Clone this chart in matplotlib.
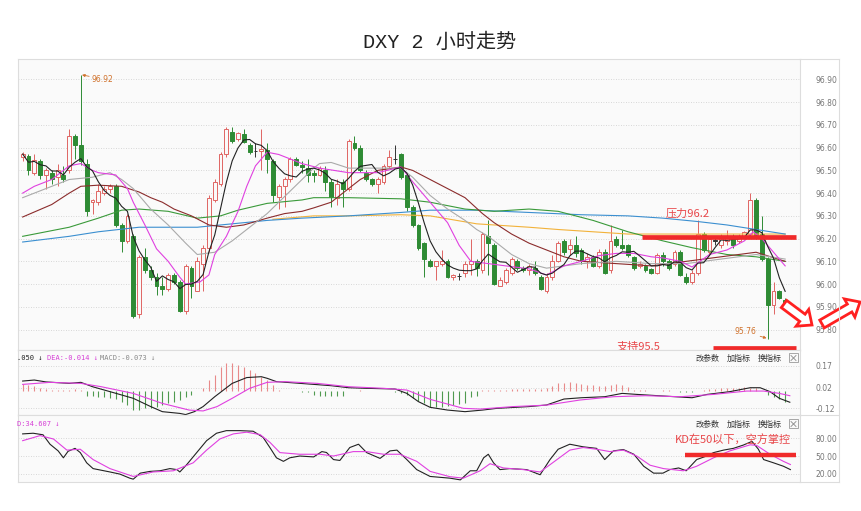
import numpy as np
import pandas as pd
import matplotlib
matplotlib.use("Agg")
import matplotlib.pyplot as plt
from matplotlib.patches import FancyArrow, Rectangle

plt.rcParams['font.family'] = ['DejaVu Sans', 'Noto Sans CJK SC']

# 2h bars (left -> right)
opens = [96.557, 96.562, 96.49, 96.54, 96.48, 96.49, 96.47, 96.48, 96.50, 96.65,
         96.61, 96.53, 96.36, 96.36, 96.40, 96.42, 96.43, 96.26, 96.19, 96.21,
         95.87, 96.12, 96.06, 96.03, 95.99, 95.98, 96.04, 96.01, 95.88, 96.07,
         95.97, 96.09, 96.16, 96.37, 96.44, 96.57, 96.67, 96.64, 96.66, 96.61,
         96.585, 96.585, 96.59, 96.54, 96.385, 96.43, 96.46, 96.55, 96.525, 96.51,
         96.49, 96.48, 96.50, 96.45, 96.38, 96.45, 96.42, 96.62, 96.60, 96.49,
         96.46, 96.44, 96.45, 96.52, 96.55, 96.57, 96.48, 96.34, 96.26, 96.18,
         96.10, 96.08, 96.09, 96.10, 96.03, 96.035, 96.05, 96.09, 96.10, 96.06,
         96.21, 96.17, 95.99, 96.01, 96.05, 96.10, 96.07, 96.06, 96.07, 96.03,
         95.97, 96.03, 96.10, 96.19, 96.155, 96.17, 96.15, 96.10, 96.12, 96.08,
         96.14, 96.06, 96.20, 96.17, 96.17, 96.12, 96.08, 96.08, 96.065, 96.05,
         96.13, 96.10, 96.09, 96.14, 96.03, 96.01, 96.05, 96.22, 96.14, 96.19,
         96.17, 96.19, 96.21, 96.19, 96.21, 96.22, 96.37, 96.22, 96.11, 95.91,
         95.97, 95.93]
highs = [96.58, 96.572, 96.57, 96.55, 96.51, 96.50, 96.53, 96.52, 96.68, 96.66,
         96.92, 96.55, 96.375, 96.44, 96.43, 96.44, 96.44, 96.27, 96.31, 96.22,
         96.13, 96.16, 96.08, 96.05, 96.03, 96.05, 96.05, 96.02, 96.09, 96.08,
         96.12, 96.17, 96.39, 96.46, 96.58, 96.69, 96.69, 96.67, 96.68, 96.62,
         96.62, 96.68, 96.62, 96.55, 96.44, 96.47, 96.56, 96.56, 96.54, 96.55,
         96.50, 96.52, 96.52, 96.46, 96.46, 96.46, 96.64, 96.65, 96.61, 96.50,
         96.465, 96.47, 96.53, 96.59, 96.61, 96.575, 96.49, 96.35, 96.265, 96.185,
         96.11, 96.10, 96.15, 96.11, 96.045, 96.05, 96.10, 96.20, 96.11, 96.23,
         96.28, 96.18, 96.03, 96.07, 96.12, 96.11, 96.08, 96.09, 96.10, 96.04,
         96.05, 96.13, 96.19, 96.20, 96.20, 96.21, 96.16, 96.135, 96.13, 96.155,
         96.155, 96.26, 96.21, 96.24, 96.175, 96.125, 96.10, 96.09, 96.07, 96.135,
         96.14, 96.11, 96.15, 96.15, 96.05, 96.06, 96.28, 96.23, 96.21, 96.21,
         96.22, 96.24, 96.22, 96.22, 96.235, 96.40, 96.38, 96.30, 96.12, 96.01,
         95.975, 95.94]
lows = [96.54, 96.48, 96.48, 96.46, 96.42, 96.44, 96.43, 96.45, 96.49, 96.55,
        96.525, 96.30, 96.31, 96.35, 96.39, 96.40, 96.25, 96.14, 96.18, 95.85,
        95.85, 96.05, 96.02, 95.95, 95.95, 95.97, 96.00, 95.875, 95.87, 95.94,
        95.97, 95.97, 96.14, 96.36, 96.43, 96.56, 96.62, 96.63, 96.62, 96.57,
        96.56, 96.50, 96.49, 96.36, 96.33, 96.34, 96.45, 96.52, 96.49, 96.45,
        96.45, 96.475, 96.41, 96.34, 96.35, 96.34, 96.41, 96.59, 96.495, 96.455,
        96.43, 96.40, 96.44, 96.51, 96.53, 96.46, 96.32, 96.25, 96.15, 96.03,
        96.075, 96.02, 96.08, 96.025, 96.02, 96.02, 96.03, 96.04, 96.035, 96.05,
        96.04, 95.995, 95.99, 96.00, 96.04, 96.06, 96.055, 96.04, 96.04, 95.975,
        95.96, 96.02, 96.095, 96.13, 96.13, 96.12, 96.09, 96.07, 96.075, 96.07,
        96.045, 96.05, 96.165, 96.15, 96.12, 96.06, 96.07, 96.055, 96.045, 96.045,
        96.08, 96.06, 96.08, 96.035, 96.00, 96.00, 96.04, 96.14, 96.13, 96.17,
        96.16, 96.17, 96.16, 96.18, 96.20, 96.21, 96.20, 96.10, 95.76, 95.87,
        95.935, 95.89]
closes = [96.572, 96.50, 96.547, 96.48, 96.50, 96.46, 96.50, 96.46, 96.65, 96.61,
          96.54, 96.32, 96.37, 96.41, 96.42, 96.43, 96.26, 96.19, 96.30, 95.86,
          96.12, 96.06, 96.03, 95.99, 95.98, 96.04, 96.01, 95.88, 96.08, 95.99,
          96.10, 96.16, 96.38, 96.45, 96.57, 96.68, 96.63, 96.665, 96.625, 96.58,
          96.585, 96.595, 96.55, 96.39, 96.43, 96.46, 96.55, 96.525, 96.515, 96.48,
          96.48, 96.51, 96.45, 96.385, 96.44, 96.42, 96.63, 96.60, 96.50, 96.46,
          96.44, 96.46, 96.52, 96.56, 96.55, 96.47, 96.34, 96.26, 96.16, 96.11,
          96.08, 96.10, 96.10, 96.03, 96.04, 96.035, 96.09, 96.10, 96.07, 96.22,
          96.18, 96.00, 96.02, 96.06, 96.11, 96.07, 96.06, 96.08, 96.05, 95.98,
          96.03, 96.10, 96.18, 96.14, 96.17, 96.135, 96.10, 96.12, 96.08, 96.14,
          96.05, 96.19, 96.17, 96.16, 96.13, 96.07, 96.09, 96.06, 96.05, 96.13,
          96.10, 96.07, 96.14, 96.04, 96.01, 96.05, 96.22, 96.15, 96.20, 96.19,
          96.21, 96.21, 96.17, 96.21, 96.23, 96.37, 96.21, 96.11, 95.91, 95.97,
          95.94, 95.91]

# moving averages (bar index, value)
ma10_idx = [0, 2, 5, 8, 10, 12, 13, 16, 18, 19, 21, 23, 25, 27, 28, 30.5, 32, 33, 35, 37, 38.5, 40, 42, 44,
            46, 48, 51, 56, 59, 61, 65, 67, 70, 73, 75, 77, 80, 83, 87, 90, 93, 96, 99, 102, 105, 108,
            110, 113, 115, 118, 121, 124, 125.5, 127, 129, 131]
ma10_val = [96.40, 96.43, 96.46, 96.52, 96.53, 96.50, 96.49, 96.48, 96.42, 96.36, 96.26, 96.155, 96.10,
            96.03, 96.00, 96.01, 96.04, 96.13, 96.21, 96.32, 96.43, 96.52, 96.58, 96.57, 96.55, 96.53,
            96.51, 96.49, 96.49, 96.49, 96.515, 96.45, 96.36, 96.27, 96.17, 96.10, 96.09, 96.08, 96.067,
            96.04, 96.08, 96.10, 96.125, 96.135, 96.135, 96.12, 96.115, 96.10, 96.075, 96.13, 96.15, 96.19,
            96.23, 96.20, 96.14, 96.08]
ma20_idx = [0, 2, 5, 8, 12, 15, 17, 19, 22, 25, 28, 30, 33, 36, 38, 40, 42, 44, 46, 48, 50, 51, 53, 56,
            59, 62, 65, 67, 70, 73, 76, 78, 80, 82, 84, 87, 90, 96, 102, 108, 114, 120, 126, 131]
ma20_val = [96.38, 96.40, 96.43, 96.46, 96.47, 96.49, 96.46, 96.42, 96.33, 96.26, 96.18, 96.13, 96.14,
            96.19, 96.23, 96.27, 96.31, 96.36, 96.41, 96.46, 96.51, 96.53, 96.535, 96.51, 96.51, 96.51,
            96.51, 96.47, 96.39, 96.33, 96.28, 96.24, 96.21, 96.17, 96.13, 96.09, 96.07, 96.09, 96.10,
            96.09, 96.09, 96.11, 96.13, 96.11]
ma30_idx = [0, 5, 8, 10, 13, 17, 20, 22, 24, 26, 29, 32, 35, 38, 42, 45, 48, 50, 53, 56, 58, 61, 65, 67,
            70, 73, 76, 79, 81, 84, 87, 90, 93, 96, 102, 108, 114, 120, 126, 131]
ma30_val = [96.295, 96.35, 96.40, 96.43, 96.435, 96.43, 96.405, 96.38, 96.36, 96.33, 96.30, 96.26, 96.25,
            96.26, 96.29, 96.31, 96.32, 96.335, 96.36, 96.42, 96.46, 96.50, 96.515, 96.50, 96.46, 96.42,
            96.38, 96.31, 96.27, 96.22, 96.18, 96.15, 96.12, 96.10, 96.09, 96.08, 96.10, 96.12, 96.14,
            96.10]
ma60_idx = [0, 8, 13, 17, 20, 25, 30, 34, 37, 42, 48, 50, 56, 65, 70, 76, 81, 87, 92, 98, 104, 110, 115,
            121, 126, 131]
ma60_val = [96.21, 96.25, 96.29, 96.325, 96.33, 96.32, 96.29, 96.30, 96.325, 96.355, 96.37, 96.38, 96.38,
            96.375, 96.36, 96.33, 96.32, 96.33, 96.32, 96.28, 96.23, 96.19, 96.16, 96.13, 96.12, 96.10]
ma120_idx = [0, 8, 13, 20, 30, 36, 42, 48, 56, 65, 70, 78, 87, 96, 104, 110, 116, 121, 126, 131]
ma120_val = [96.185, 96.21, 96.23, 96.25, 96.25, 96.265, 96.28, 96.29, 96.30, 96.315, 96.325, 96.325,
             96.315, 96.305, 96.30, 96.29, 96.275, 96.26, 96.24, 96.22]
ma250_idx = [43, 50, 56, 65, 70, 78, 87, 92, 98, 104, 115, 131]
ma250_val = [96.285, 96.30, 96.30, 96.305, 96.30, 96.265, 96.25, 96.24, 96.23, 96.22, 96.22, 96.22]

# MACD panel
dif_idx = [0, 2, 4, 8, 10, 12, 15, 19, 22, 24, 27, 28, 29.5, 31, 33, 36, 38.5, 41, 42, 43.6, 45, 50, 53,
           56, 59, 64, 66, 68, 70, 73, 76, 79, 81.5, 87, 90, 93, 96, 100, 103, 105.5, 110, 115, 117.6,
           121.5, 125, 126.7, 128.4, 130, 131.8]
dif_val = [0.066, 0.073, 0.06, 0.05, 0.057, 0.027, -0.007, -0.053, -0.11, -0.145, -0.157, -0.165, -0.145,
           -0.11, -0.042, 0.05, 0.09, 0.096, 0.085, 0.062, 0.058, 0.043, 0.034, 0.02, 0.016, 0.011, -0.019,
           -0.076, -0.115, -0.134, -0.145, -0.134, -0.122, -0.11, -0.099, -0.058, -0.049, -0.042, -0.019,
           -0.026, -0.037, -0.049, -0.026, -0.007, 0.02, 0.02, -0.007, -0.053, -0.08]
dea_idx = [0, 4.7, 10, 13.5, 19, 24, 28.6, 31, 33.4, 36, 39, 42, 45, 50.6, 56, 62, 66, 70, 75.7, 78.6,
           84.3, 90, 95.7, 101.5, 107, 113, 118.7, 124.4, 127.3, 130, 131.8]
dea_val = [0.043, 0.057, 0.05, 0.027, -0.019, -0.088, -0.134, -0.14, -0.11, -0.053, 0.016, 0.057, 0.062,
           0.05, 0.027, 0.016, 0.004, -0.06, -0.122, -0.127, -0.11, -0.1, -0.065, -0.042, -0.035, -0.042,
           -0.026, -0.003, -0.003, -0.019, -0.035]
macd_hist = [0.044, 0.04, 0.032, 0.016, 0.01, 0.005, 0.005, 0.005, 0.005, 0.008, 0.005,
             -0.04, -0.04, -0.045, -0.045, -0.05, -0.057, -0.076, -0.1, -0.134, -0.134, -0.122, -0.118,
             -0.11, -0.1, -0.088, -0.076, -0.065, -0.041, -0.03,
             -0.005,
             0.02, 0.074, 0.108, 0.166, 0.19, 0.19, 0.18, 0.166, 0.143, 0.12, 0.097, 0.074, 0.04, 0.005,
             -0.005, -0.005, -0.005, -0.008, -0.01,
             -0.03, -0.035, -0.04, -0.04, -0.04, -0.035,
             -0.005, -0.005, 0.003, -0.005, -0.005, -0.005, -0.005, -0.005, -0.01,
             -0.018, -0.03, -0.053, -0.071, -0.088,
             -0.11, -0.11, -0.11, -0.105, -0.1, -0.095, -0.085, -0.045, -0.035,
             0.003, 0.005, 0.003, 0.003, 0.005, 0.008, 0.008, 0.01, 0.01, 0.01, 0.012, 0.015, 0.03,
             0.05, 0.05, 0.058, 0.05, 0.045, 0.04, 0.04, 0.03, 0.035, 0.04, 0.045, 0.04, 0.028, 0.005,
             0.003, 0.003, -0.003, -0.003, 0.003, 0.003, -0.005,
             -0.008, -0.01, -0.01, -0.005,
             0.005, 0.01, 0.012, 0.015, 0.015, 0.018, 0.02, 0.022, 0.02, 0.015,
             -0.005, -0.03, -0.045, -0.06, -0.075]

# KD panel
k_idx = [0, 1.8, 3.5, 4.7, 6.1, 7, 7.8, 9, 9.9, 11, 12.1, 15, 16.7, 18.4, 19, 20.2, 21.9, 23.6, 25.3,
         26.5, 27, 28.2, 29.9, 31.6, 33.3, 35, 37.3, 39.6, 41.3, 42.5, 43.6, 44.8, 45.9, 47.6, 50, 51.4,
         52.2, 53.4, 54.5, 56.2, 57.7, 59.1, 61.4, 63.1, 64.3, 66, 67.7, 70, 73.4, 75.2, 76.9, 78, 79.2,
         80, 80.9, 82, 83.7, 86.6, 88.9, 90.6, 92, 94, 96.3, 98.6, 100, 101.5, 103.2, 105, 106.7, 108.4,
         110, 111.2, 112.7, 114, 115.8, 117.5, 118.7, 120.4, 122.1, 123.8, 125.3, 126.4, 127.3, 129,
         130.7, 131.9]
k_val = [87.5, 88.6, 86, 70, 58.7, 47, 58, 63, 55.8, 38.5, 28.7, 23, 19.4, 12.5, 10.8, 21, 24, 25, 28.7,
         27, 23, 35.6, 55.8, 76, 88.6, 93, 93, 92, 81.7, 64, 47, 41, 47, 50, 48.5, 57.5,
         56, 44, 42.5, 64.4, 70, 55.8, 46, 58.7, 60, 44, 27, 15.4, 12.5, 9.6, 25, 25, 47,
         53, 38.5, 27, 28.7, 27, 18.3, 44, 61.5, 70, 65.6, 63, 44, 58.7, 61, 53, 32.7, 21,
         21, 27, 29.8, 25, 44, 50, 55.8, 60, 63, 68.5, 74.8, 61.5, 44, 38.5,
         32.7, 27]
d_idx = [0, 3, 5.3, 7.6, 9.9, 12.1, 15, 19, 22.4, 25.9, 29.3, 31.6, 33.9, 36.2, 38.5, 40.8, 42.5, 44.2,
         47.6, 51.1, 53.4, 56.8, 59.1, 62, 64.8, 67.7, 70, 73.4, 75.7, 78.6, 80.3, 82.6, 86, 88.9, 91.8,
         94, 96.3, 98.6, 100.9, 103.2, 105.5, 107.8, 110.1, 113.5, 115.8, 118.7, 121.5, 125, 126.1,
         128.4, 130.7, 131.9]
d_val = [76, 84.6, 78.8, 60, 61.5, 44, 28.7, 15.4, 23, 25, 38.5, 60, 79, 87.5, 90.4, 86.3, 73, 55.8,
         53, 53, 50, 57.5, 57.5, 53, 53, 41, 24, 15, 12.5, 25, 37, 29.8, 27, 23, 44,
         60, 64.4, 61.5, 57.5, 60, 50, 34.4, 28.7, 25, 32.7, 47, 58.7, 69, 68,
         53, 41, 35.6]

W, H = 862, 511
fig = plt.figure(figsize=(W / 100, H / 100), dpi=100)
fig.patch.set_facecolor('white')

def box(l, t, r, b):
    return [l / W, 1 - b / H, (r - l) / W, (b - t) / H]

bg = '#fafafa'
grid_kw = dict(color='#cccccc', linestyle=(0, (1, 2)), linewidth=0.6)
up_col = '#e06563'
dn_col = '#2e8b34'

ax = fig.add_axes(box(18, 59, 800, 350))
macd_ax = fig.add_axes(box(18, 350, 800, 415), sharex=ax)
kd_ax = fig.add_axes(box(18, 415, 800, 482), sharex=ax)

for a in (ax, macd_ax, kd_ax):
    a.set_facecolor(bg)
    for s in a.spines.values():
        s.set_color('#dddddd')
        s.set_linewidth(0.8)
    a.yaxis.tick_right()
    a.tick_params(axis='y', length=0, pad=11, labelsize=5.5, labelcolor='#777777')
    a.tick_params(axis='x', length=0, labelbottom=False)
    a.yaxis.grid(True, **grid_kw)
    a.set_axisbelow(True)

n = len(closes)
x = np.arange(n)
o = np.array(opens)
c = np.array(closes)
ax.set_xlim(-0.8, 133.55)

# candles
for i in range(n):
    if c[i] > o[i]:
        col, face = up_col, bg
    elif c[i] < o[i]:
        col, face = dn_col, dn_col
    else:
        col, face = '#333333', '#333333'
    ax.vlines(i, lows[i], highs[i], color=col, linewidth=0.7, zorder=2)
    ax.bar(i, max(abs(c[i] - o[i]), 0.002), bottom=min(c[i], o[i]), width=0.66,
           facecolor=face, edgecolor=col, linewidth=0.7, zorder=3)

ma5 = pd.Series(closes).rolling(5, min_periods=1).mean()
lw = 0.8
ax.plot(ma250_idx, ma250_val, color='#f2b23a', lw=lw, zorder=4)
ax.plot(ma120_idx, ma120_val, color='#3b8fd0', lw=lw, zorder=4)
ax.plot(ma60_idx, ma60_val, color='#3a9a3a', lw=lw, zorder=4)
ax.plot(ma30_idx, ma30_val, color='#8b2c2c', lw=lw, zorder=4)
ax.plot(ma20_idx, ma20_val, color='#aaaaaa', lw=lw, zorder=4)
ax.plot(ma10_idx, ma10_val, color='#e040e0', lw=lw, zorder=4)
ax.plot(x, ma5, color='#222222', lw=lw, zorder=5)

ax.set_ylim(95.71, 96.99)
pticks = [95.8, 95.9, 96.0, 96.1, 96.2, 96.3, 96.4, 96.5, 96.6, 96.7, 96.8, 96.9]
ax.set_yticks(pticks)
ax.set_yticklabels(['%.2f' % t for t in pticks])

# high / low marks
ax.annotate('96.92', xy=(10.2, 96.92), xytext=(11.9, 96.902), fontsize=5.5, color='#d0722c',
            va='center', ha='left',
            arrowprops=dict(arrowstyle='-|>', color='#d0722c', lw=0.6, mutation_scale=4,
                            shrinkA=0, shrinkB=0))
ax.annotate('95.76', xy=(127.8, 95.762), xytext=(126.0, 95.79), fontsize=5.5, color='#d0722c',
            va='center', ha='right',
            arrowprops=dict(arrowstyle='-|>', color='#d0722c', lw=0.6, mutation_scale=4,
                            shrinkA=1, shrinkB=0))

# resistance / support
red = '#f02a2a'
txt_red = '#e8474a'
ax.plot([106.4, 132.9], [96.205, 96.205], color=red, lw=3.4, solid_capstyle='butt', zorder=7)
ax.text(110.5, 96.308, '压力96.2', color=txt_red, fontsize=8, va='center', ha='left',
        family=['Noto Sans CJK SC'], zorder=7)
ax.plot([118.6, 132.9], [95.719, 95.719], color=red, lw=3.4, solid_capstyle='butt', zorder=7,
        clip_on=False)
ax.text(102.1, 95.722, '支持95.5', color=txt_red, fontsize=8, va='center', ha='left',
        family=['Noto Sans CJK SC'], zorder=7)

# MACD
hist = np.array(macd_hist)
macd_ax.vlines(x[hist >= 0], 0, hist[hist >= 0], color='#e88a8a', linewidth=0.8)
macd_ax.vlines(x[hist < 0], 0, hist[hist < 0], color='#4f9a4f', linewidth=0.8)
macd_ax.plot(dif_idx, dif_val, color='#222222', lw=lw)
macd_ax.plot(dea_idx, dea_val, color='#e040e0', lw=lw)
macd_ax.set_ylim(-0.168, 0.28)
macd_ax.set_yticks([0.17, 0.02, -0.12])
macd_ax.set_yticklabels(['0.17', '0.02', '-0.12'])

# KD
kd_ax.plot(k_idx, k_val, color='#222222', lw=lw)
kd_ax.plot(d_idx, d_val, color='#e040e0', lw=lw)
kd_ax.set_ylim(6, 119.5)
kd_ax.set_yticks([80, 50, 20])
kd_ax.set_yticklabels(['80.00', '50.00', '20.00'])
kd_ax.plot([113.8, 132.9], [51.5, 51.5], color=red, lw=3.2, solid_capstyle='butt')
kd_ax.text(112.1, 77, 'KD在50以下，空方掌控', color=txt_red, fontsize=8, va='center', ha='left',
           family=['Noto Sans CJK SC'])

# overlay in pixel units for headers, buttons and the two arrows
ov = fig.add_axes([0, 0, 1, 1], zorder=10)
ov.set_xlim(0, W)
ov.set_ylim(H, 0)
ov.axis('off')

fig.text(440 / W, 1 - 42 / H, 'DXY 2 小时走势', ha='center', va='center', fontsize=14.5,
         family=['Liberation Mono', 'Noto Sans CJK SC'], color='#222222')

mono = ['DejaVu Sans Mono']
ov.text(17, 358, '.050 ↓', fontsize=5, family=mono, color='#222222', va='center')
ov.text(47, 358, 'DEA:-0.014 ↓', fontsize=5, family=mono, color='#d63fd6', va='center')
ov.text(100, 358, 'MACD:-0.073 ↓', fontsize=5, family=mono, color='#888888', va='center')
ov.text(17, 424, 'D:34.607 ↓', fontsize=5, family=mono, color='#d63fd6', va='center')

for yy in (358, 424):
    for xx, lab in ((696, '改参数'), (727, '加指标'), (758, '换指标')):
        ov.text(xx, yy, lab, fontsize=5.8, family=['Noto Sans CJK SC'], color='#333333', va='center')
    ov.add_patch(Rectangle((789, yy - 4.5), 9, 9, fill=False, ec='#999999', lw=0.6))
    ov.plot([791, 796], [yy - 2.5, yy + 2.5], color='#888888', lw=0.6)
    ov.plot([791, 796], [yy + 2.5, yy - 2.5], color='#888888', lw=0.6)

# right label column frame
ov.plot([839, 839], [59, 482], color='#dddddd', lw=0.8)
ov.plot([800, 839], [59, 59], color='#dddddd', lw=0.8)
ov.plot([800, 839], [482, 482], color='#dddddd', lw=0.8)
ov.plot([800, 839], [415, 415], color='#dddddd', lw=0.8)

arrow_kw = dict(width=9, head_width=21, head_length=12, length_includes_head=True,
                fc='white', ec='#ff2020', lw=2)
ov.add_patch(FancyArrow(784, 304, 28, 21, **arrow_kw))
ov.add_patch(FancyArrow(822, 324, 38, -22, **arrow_kw))

fig.savefig('out.png', dpi=100, facecolor='white')
